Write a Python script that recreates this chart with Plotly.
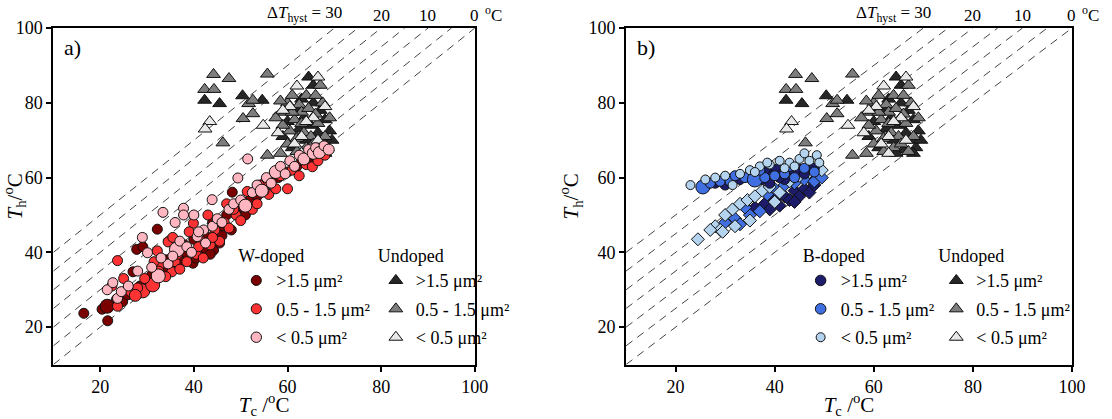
import plotly.graph_objects as go

# %%
# (Tc, Th, marker size)
w_big = [(16.5, 23.7, 10), (20.4, 24.8, 10), (21.5, 25.6, 14), (21.6, 21.7, 10), (23.5, 27.5, 10),
         (24.8, 26.8, 10), (25.9, 28.8, 11), (27, 34.8, 10), (27.8, 40.8, 10), (29.1, 41.5, 10),
         (32.2, 46.2, 10), (30.3, 32.8, 10), (28.5, 31, 10), (31, 34, 10), (32.5, 33.5, 10),
         (33.5, 36, 10), (35, 36.5, 10), (34, 38, 10), (36.5, 38.5, 10), (37.5, 39, 10),
         (38.5, 39.7, 10), (39.8, 37.1, 10), (41, 40, 10), (41.2, 41.5, 10), (42.5, 41, 10),
         (44.2, 40.6, 10), (43, 44, 10), (45, 45, 10), (46, 47, 10), (47, 50, 10),
         (48.2, 56.1, 10), (49, 51, 10), (50.5, 52, 10), (52, 54, 10), (53.5, 55, 10),
         (55, 57, 10), (56, 58.5, 10), (58, 60, 10), (60, 61.5, 10), (62, 63, 10),
         (63, 64.5, 10), (38, 42, 10), (40, 43.5, 10), (36, 41, 10), (44, 48, 10), (46, 44.5, 10),
         (64.5, 64, 10), (66, 65.5, 10), (34.5, 35, 10), (37, 37.5, 10), (40.5, 38.5, 10),
         (42, 42.5, 10), (43.5, 39.5, 10), (45.5, 42.5, 10), (48, 46, 10), (51, 50, 10)]
w_mid = [(23.7, 25.6, 10), (23.7, 37.8, 10), (29.1, 29.7, 14), (30.8, 31.7, 10), (31.2, 31.3, 14),
         (32.2, 40.4, 10), (34.5, 42.8, 10), (35.3, 34.8, 10), (37.8, 41.5, 10), (39.9, 47.8, 10),
         (26.5, 29.5, 10), (28, 30.5, 10), (29.5, 33, 10), (33, 37, 10), (34, 33.5, 10),
         (36, 37.5, 10), (37, 35.5, 10), (38.5, 37.5, 10), (40.5, 39.5, 10), (41.5, 43, 10),
         (42, 38.5, 10), (43.5, 42, 10), (44.5, 46, 10), (45.5, 43, 10), (46.5, 48, 10),
         (47.5, 46.5, 10), (49, 50, 10), (51.4, 56.3, 10), (50, 48.5, 10), (52.5, 51.5, 10),
         (53.5, 53, 10), (55.3, 59, 10), (56, 55.5, 10), (57.5, 57, 10), (58.5, 60.5, 10),
         (60, 57, 10), (61, 62, 10), (62.5, 60.5, 10), (64, 63.5, 10), (65.3, 62.9, 10),
         (22.5, 31, 10), (25, 33, 10), (31.5, 37.5, 10), (35.5, 44, 10), (39, 45.5, 10),
         (43, 50, 10), (47, 53, 10), (54, 58, 10), (66.5, 64.5, 10), (68, 66, 10),
         (27.5, 28.5, 12), (32.5, 35, 10), (36.5, 39.5, 10), (41, 41.5, 10), (44, 44, 10),
         (48.5, 51.5, 10), (50.5, 53.5, 10), (55, 56.5, 10)]
w_small = [(21.5, 30, 10), (22.7, 31.9, 10), (23.7, 27.7, 10), (24.5, 29.5, 10), (30.1, 39.9, 10),
           (32.4, 33.7, 14), (33.4, 50.7, 10), (34.5, 36.9, 10), (36.4, 40.8, 15), (37.8, 51.8, 10),
           (37.8, 50, 10), (40.7, 44.2, 10), (42.1, 46, 10), (43.9, 54.1, 10), (49.4, 59.9, 10),
           (51.5, 65, 10), (31, 36, 10), (33, 38.5, 10), (35.5, 39, 10), (37, 43, 10),
           (38.5, 41.5, 10), (39.5, 40, 10), (41, 45.5, 10), (42.5, 42.5, 10), (44, 47, 10),
           (45, 49, 10), (46, 48, 10), (47.5, 51.5, 10), (48.5, 53, 10), (50, 54, 10),
           (51, 52.5, 13), (52.5, 56, 10), (53.5, 58, 10), (54.5, 56.5, 13), (55.5, 60, 10),
           (56.5, 58.5, 10), (57.5, 61.5, 13), (58.5, 63, 10), (59.5, 61, 10), (60.5, 64.5, 10),
           (61.5, 63, 10), (62.5, 66, 10), (63.5, 65, 12), (64.5, 67.5, 10), (65.5, 66.5, 12),
           (66, 68, 10), (28, 35, 10), (26, 31, 10), (29, 44, 10), (36, 48, 10), (40, 50, 10),
           (66.8, 66.7, 12), (67.8, 68.5, 10), (68.8, 67.5, 11)]

und_big = [(42.3, 80.7), (45.5, 79.8), (50.4, 81.9), (54.6, 80.7), (64.5, 86.9), (65.5, 84.7),
           (62, 78), (63.5, 76), (65, 74), (66.5, 72), (67.5, 70), (68.5, 68), (67, 78),
           (68, 75.5), (64, 70), (62.5, 73), (61, 68), (66, 67.5), (69, 72.5), (60, 75),
           (63, 81), (65.5, 80), (59, 71), (68, 66.5), (64.5, 66.5), (69.5, 70)]
und_mid = [(44.2, 87.6), (47.5, 86.5), (55.7, 87.7), (42.3, 83.6), (44.3, 83.6), (51.7, 79.8),
           (52.6, 80.7), (50.5, 75.8), (52.6, 77.1), (46.2, 69.3), (55.7, 66), (58.5, 66.5),
           (67, 84.7), (60, 80), (61, 82), (62.5, 79.5), (64, 82), (59.5, 77.5), (61.5, 75.5),
           (63, 77.5), (64.5, 78.5), (66, 77), (67.5, 80), (60.5, 72.5), (62, 70.5), (63.5, 72),
           (65, 71), (66.5, 74.5), (68, 71), (59, 74), (64, 68), (65.5, 69), (67, 67), (60, 69),
           (63, 74.5), (61, 77.5), (58.5, 80.5), (66, 82), (69, 76), (57.5, 76), (62, 67)]
und_small = [(43.4, 75), (42.4, 73), (54.8, 74), (66.5, 86.9), (62, 84.5), (63, 71), (65.5, 76),
             (61.5, 69), (60.5, 79), (64, 75), (66.5, 70), (59, 78), (68, 79), (63, 66.5), (58, 72)]

b_big = [(28, 58.5, 10), (30, 58, 10), (33, 59.5, 10), (35, 60, 10), (36.5, 61, 12), (37.5, 59.5, 10),
         (38.5, 61.5, 12), (39.5, 60.5, 10), (40.5, 62, 12), (41.5, 61, 10), (42, 59.5, 10),
         (43, 62.5, 12), (44, 61.5, 10), (45, 62, 12), (46, 61, 10), (47, 63, 10), (48, 62.5, 10),
         (39, 58.5, 10), (41, 60, 10)]
b_mid = [(25.5, 57.5, 14), (27, 58.5, 10), (29, 59, 10), (31, 59, 10), (32, 60.5, 10), (34, 60, 10),
         (36, 59.5, 15), (38, 60, 10), (40, 60.5, 10), (42, 61, 10), (44, 60, 10), (46, 62.5, 10),
         (48, 61.5, 10), (37, 62, 10), (43, 63, 10)]
b_small = [(23, 58, 9), (26, 59.5, 9), (28, 60, 9), (30, 60.5, 9), (31.5, 58, 9), (33, 61, 9),
           (35, 62, 9), (37, 63, 9), (39, 63.5, 9), (41, 64.5, 9), (43, 64, 9), (45, 65, 9),
           (47, 64.5, 9), (48.5, 66, 9), (46, 66.5, 9), (42, 62.5, 9), (38.5, 64, 9), (36, 61.5, 9),
           (44, 63, 9), (49, 64, 9)]

# diamonds in panel b (second B-doped set, not in the legend)
bd_big = [(36, 52), (38, 53), (40, 54), (41, 52.5), (42, 55), (43, 54), (44, 56.5), (45, 55),
          (46, 57), (47, 56), (48, 58), (39, 51.5), (44, 53.5), (47, 60)]
bd_mid = [(30, 48), (32, 49), (33, 47.5), (35, 50), (37, 51), (38.5, 55.5), (40, 57), (42, 58),
          (44, 58.5), (46, 59.5), (48, 59), (49.5, 60), (34, 52)]
bd_small = [(24.5, 43.5), (28, 47), (29, 46), (30, 50), (31.5, 51.5), (33, 53), (34.5, 54), (36, 55),
            (37.5, 56.5), (39, 57.5), (41, 56), (43, 59), (45, 60.5), (47, 61.5), (49.5, 62),
            (35, 48.5), (40, 53.5), (32, 47), (29.5, 45.5), (27, 46)]

size_labels = ['>1.5 \u03bcm\u00b2', '0.5 - 1.5 \u03bcm\u00b2', '< 0.5 \u03bcm\u00b2']
w_colors = ['#7a0000', '#ff3333', '#ffb6c1']
b_colors = ['#1c1c6b', '#3f6fe0', '#b3d3ee']
und_colors = ['#262626', '#7d7d7d', '#e8e8e8']

hyst_offsets = [0, 5, 10, 15, 20, 25, 30]
hyst_labels = [30, 20, 10, 0]

FONT = 'Liberation Serif, Times New Roman, serif'

# %%
fig = go.Figure()


def add_pts(data, color, symbol, name, xa, ya, legend, show=True, size=10):
    xs = [p[0] for p in data]
    ys = [p[1] for p in data]
    ss = [p[2] if len(p) > 2 else size for p in data]
    fig.add_trace(go.Scatter(
        x=xs, y=ys, mode='markers', name=name, legend=legend, showlegend=show,
        legendgroup=legend + name,
        xaxis=xa, yaxis=ya,
        marker=dict(color=color, size=ss, symbol=symbol, opacity=1,
                    line=dict(color='#111', width=1)),
    ))


# dashed lines of constant hysteresis
for xa, ya in [('x', 'y'), ('x2', 'y2')]:
    for d in hyst_offsets:
        fig.add_trace(go.Scatter(x=[10, 100 - d], y=[10 + d, 100], mode='lines', showlegend=False,
                                 xaxis=xa, yaxis=ya, hoverinfo='skip',
                                 line=dict(color='#444', width=1, dash='8px,6px')))

# panel a
for data, col, lab in zip([und_big, und_mid, und_small], und_colors, size_labels):
    add_pts(data, col, 'triangle-up', lab, 'x', 'y', 'legend2', size=12)
for data, col, lab in zip([w_big, w_mid, w_small], w_colors, size_labels):
    add_pts(data, col, 'circle', lab, 'x', 'y', 'legend')

# panel b
for data, col, lab in zip([und_big, und_mid, und_small], und_colors, size_labels):
    add_pts(data, col, 'triangle-up', lab, 'x2', 'y2', 'legend4', size=12)
for data, col in zip([bd_big, bd_mid, bd_small], b_colors):
    add_pts(data, col, 'diamond', 'diamonds', 'x2', 'y2', 'legend3', show=False, size=10)
for data, col, lab in zip([b_big, b_mid, b_small], b_colors, size_labels):
    add_pts(data, col, 'circle', lab, 'x2', 'y2', 'legend3')

# %%
axis_common = dict(range=[10, 100], showline=True, linewidth=2, linecolor='black', mirror=True,
                   ticks='outside', ticklen=5, tickwidth=2, tickcolor='black', showgrid=False,
                   zeroline=False, tickvals=[20, 40, 60, 80, 100], automargin=False,
                   tickfont=dict(family=FONT, size=18, color='black'))
xtitle = dict(text='<i>T</i><sub>c</sub> /<sup>o</sup>C', font=dict(family=FONT, size=21, color='black'), standoff=3)
ytitle = dict(text='<i>T</i><sub>h</sub>/<sup>o</sup>C', font=dict(family=FONT, size=21, color='black'), standoff=4)

legend_common = dict(bgcolor='rgba(0,0,0,0)', font=dict(family=FONT, size=18, color='black'),
                     xanchor='left', yanchor='top', tracegroupgap=2, itemsizing='trace',
                     title_font=dict(family=FONT, size=18, color='black'))

fig.update_layout(
    width=1112, height=419,
    margin=dict(l=0, r=0, t=0, b=0, autoexpand=False),
    plot_bgcolor='white', paper_bgcolor='white',
    font=dict(family=FONT, size=18, color='black'),
    xaxis=dict(domain=[0.048, 0.427], anchor='y', title=xtitle, **axis_common),
    yaxis=dict(domain=[0.13, 0.933], anchor='x', title=ytitle, **axis_common),
    xaxis2=dict(domain=[0.563, 0.964], anchor='y2', title=xtitle, **axis_common),
    yaxis2=dict(domain=[0.13, 0.933], anchor='x2', title=ytitle, **axis_common),
    legend=dict(x=0.2125, y=0.43, title_text='W-doped', **legend_common),
    legend2=dict(x=0.338, y=0.43, title_text='Undoped', **legend_common),
    legend3=dict(x=0.72, y=0.43, title_text='B-doped', **legend_common),
    legend4=dict(x=0.842, y=0.43, title_text='Undoped', **legend_common),
)

# panel letters and the hysteresis scale on top
for xr, yr, letter in [('x domain', 'y domain', 'a)'), ('x2 domain', 'y2 domain', 'b)')]:
    fig.add_annotation(x=0.02, y=0.985, xref=xr, yref=yr,
                       text=letter, showarrow=False, xanchor='left', yanchor='top',
                       font=dict(family=FONT, size=22, color='black'))
for xr in ['x', 'x2']:
    for v in hyst_labels:
        txt = str(v) if v != hyst_labels[0] else '\u0394<i>T</i><sub>hyst</sub> = ' + str(v)
        fig.add_annotation(x=100 - v, y=0.935, xref=xr, yref='paper', text=txt, showarrow=False,
                           xanchor='right' if v == hyst_labels[0] else 'center', yanchor='bottom',
                           xshift=10 if v == hyst_labels[0] else 0,
                           font=dict(family=FONT, size=17, color='black'))
    fig.add_annotation(x=100, y=0.935, xref=xr, yref='paper', text='<sup>o</sup>C', showarrow=False,
                       xanchor='left', yanchor='bottom', xshift=8,
                       font=dict(family=FONT, size=17, color='black'))

# page margin off so the 1112x419 figure fills the window
fig.write_html("out.html", config={'displayModeBar': False},
               post_script="document.body.style.margin='0px';")
